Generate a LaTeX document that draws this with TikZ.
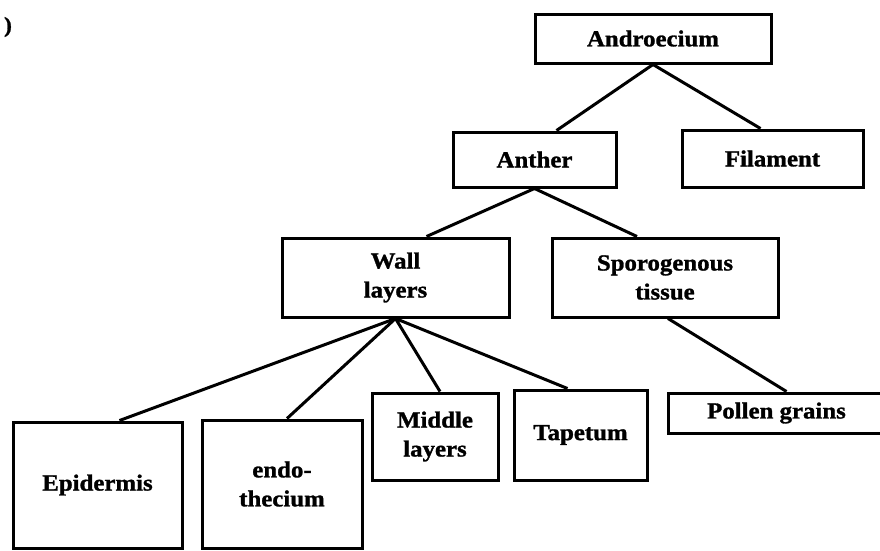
\documentclass[tikz,border=0pt]{standalone}
\usepackage{fontspec}
\setmainfont{Liberation Serif}[FakeStretch=1.08, BoldFeatures={FakeBold=1.2}]
\begin{document}
\begin{tikzpicture}[x=1pt,y=-1pt,
  box/.style={draw=black, line width=3pt, rectangle, inner sep=0pt, align=center,
    font=\fontsize{23}{29}\selectfont\bfseries},
  link/.style={draw=black, line width=3pt}]
\clip (0,0) rectangle (880,550);
\fill[white] (0,0) rectangle (880,550);
% stray bracket at top left
\node[font=\fontsize{22}{26}\selectfont\bfseries] (br) at (8,27) {)};
% boxes
\node[box, minimum width=236pt, minimum height=49pt] (andro) at (653,38.5) {Androecium};
\node[box, minimum width=163pt, minimum height=55pt] (anther) at (534.5,159.5) {Anther};
\node[box, minimum width=181pt, minimum height=57pt] (fil) at (772.5,158.5) {Filament};
\node[box, minimum width=227pt, minimum height=79pt] (wall) at (395.5,277.5) {Wall\\layers};
\node[box, minimum width=226pt, minimum height=79pt] (sporo) at (665,277.5) {Sporogenous\\tissue};
\node[box, minimum width=169pt, minimum height=126pt] (epid) at (97.5,485) {Epidermis};
\node[box, minimum width=160pt, minimum height=128pt] (endo) at (282,484) {endo-\\thecium};
\node[box, minimum width=126pt, minimum height=87pt] (mid) at (435,436.5) {Middle\\layers};
\node[box, minimum width=133pt, minimum height=90pt] (tap) at (580.5,435) {Tapetum};
\node[box, minimum width=217pt, minimum height=40pt] (pollen) at (776.5,413) {Pollen grains};
% connectors
\draw[link] (andro.south) -- ([xshift=22pt]anther.north);
\draw[link] (andro.south) -- ([xshift=-12pt]fil.north);
\draw[link] (anther.south) -- ([xshift=31pt]wall.north);
\draw[link] (anther.south) -- ([xshift=-28pt]sporo.north);
\draw[link] (wall.south) -- ([xshift=22pt]epid.north);
\draw[link] (wall.south) -- ([xshift=5pt]endo.north);
\draw[link] (wall.south) -- ([xshift=5pt]mid.north);
\draw[link] (wall.south) -- ([xshift=-13pt]tap.north);
\draw[link] ([xshift=3pt]sporo.south) -- ([xshift=10pt]pollen.north);
\end{tikzpicture}
\end{document}
